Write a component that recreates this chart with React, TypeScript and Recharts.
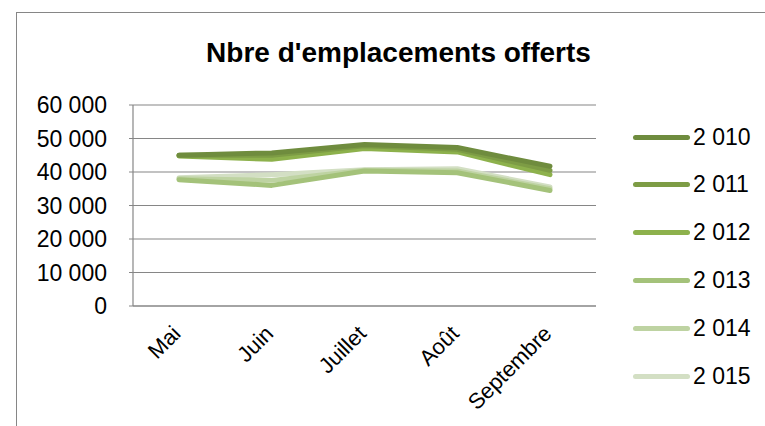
import React from 'react';
import { LineChart, Line, XAxis, YAxis, CartesianGrid } from 'recharts';

const MONTHS = ['Mai', 'Juin', 'Juillet', 'Août', 'Septembre'];
const Y_TICKS = [0, 10000, 20000, 30000, 40000, 50000, 60000];

const Y2010 = [45000, 45700, 48200, 47300, 41700];
const Y2011 = [45000, 45000, 47800, 46800, 40500];
const Y2012 = [44800, 43800, 47000, 46000, 39200];
const Y2013 = [37700, 36000, 40300, 39800, 34500];
const Y2014 = [38000, 37500, 40500, 40300, 35000];
const Y2015 = [38300, 39200, 40700, 41000, 35500];

const SERIES = [
  { key: 'y2010', name: '2 010', values: Y2010, color: '#6f8c3e' },
  { key: 'y2011', name: '2 011', values: Y2011, color: '#7d9c45' },
  { key: 'y2012', name: '2 012', values: Y2012, color: '#8db14c' },
  { key: 'y2013', name: '2 013', values: Y2013, color: '#a4c27a' },
  { key: 'y2014', name: '2 014', values: Y2014, color: '#bed3a2' },
  { key: 'y2015', name: '2 015', values: Y2015, color: '#d3dfc4' },
];

const data = MONTHS.map((m, i) => {
  const row: any = { month: m };
  SERIES.forEach(s => { row[s.key] = s.values[i]; });
  return row;
});

const FONT = '"Liberation Sans", Arial, sans-serif';

const fmt = (v: number) => v.toString().replace(/\B(?=(\d{3})+(?!\d))/g, ' ');

const MonthTick = (props: any) => {
  const { x, y, payload } = props;
  const tx = x + 3;
  const ty = y + 21;
  return (
    <text x={tx} y={ty} textAnchor="end" fontSize={22} fill="#000" fontFamily={FONT}
      transform={`rotate(-45, ${tx}, ${ty})`}>
      {payload.value}
    </text>
  );
};

export default function App() {
  return (
    <div style={{ position: 'absolute', left: 0, top: 0, width: 765, height: 426, background: '#fff', overflow: 'hidden' }}>
      <div style={{ position: 'absolute', left: 16, top: 12, width: 800, height: 500, border: '1.5px solid #868686' }} />
      <div style={{ position: 'absolute', left: 0, width: 797, top: 37, textAlign: 'center', fontFamily: FONT, fontWeight: 'bold', fontSize: 28, color: '#000' }}>
        Nbre d'emplacements offerts
      </div>
      <div style={{ position: 'absolute', left: 0, top: 0 }}>
        <LineChart width={765} height={426} data={data} margin={{ top: 105, right: 169, bottom: 90, left: 0 }}>
          <CartesianGrid vertical={false} stroke="#868686" strokeWidth={1.2} />
          <XAxis dataKey="month" interval={0} height={30} padding={{ left: 46, right: 46 }}
            axisLine={{ stroke: '#868686', strokeWidth: 1.2 }} tickLine={false} tick={<MonthTick />} />
          <YAxis width={133} domain={[0, 60000]} ticks={Y_TICKS} tickFormatter={fmt}
            axisLine={{ stroke: '#868686', strokeWidth: 1.2 }} tickLine={{ stroke: '#868686' }} tickSize={4} tickMargin={22}
            tick={{ fontSize: 23, fill: '#000', fontFamily: FONT }} />
          {SERIES.slice().reverse().map(s => (
            <Line key={s.key} dataKey={s.key} name={s.name} stroke={s.color} strokeWidth={5}
              strokeLinecap="round" strokeLinejoin="round" dot={false} isAnimationActive={false} />
          ))}
        </LineChart>
      </div>
      {SERIES.map((s, i) => (
        <div key={s.key} style={{ position: 'absolute', left: 633, top: 123 + i * 47.8, height: 28, display: 'flex', alignItems: 'center' }}>
          <div style={{ width: 57, height: 5, borderRadius: 3, background: s.color }} />
          <span style={{ fontFamily: FONT, fontSize: 23, color: '#000', marginLeft: 3 }}>{s.name}</span>
        </div>
      ))}
    </div>
  );
}
